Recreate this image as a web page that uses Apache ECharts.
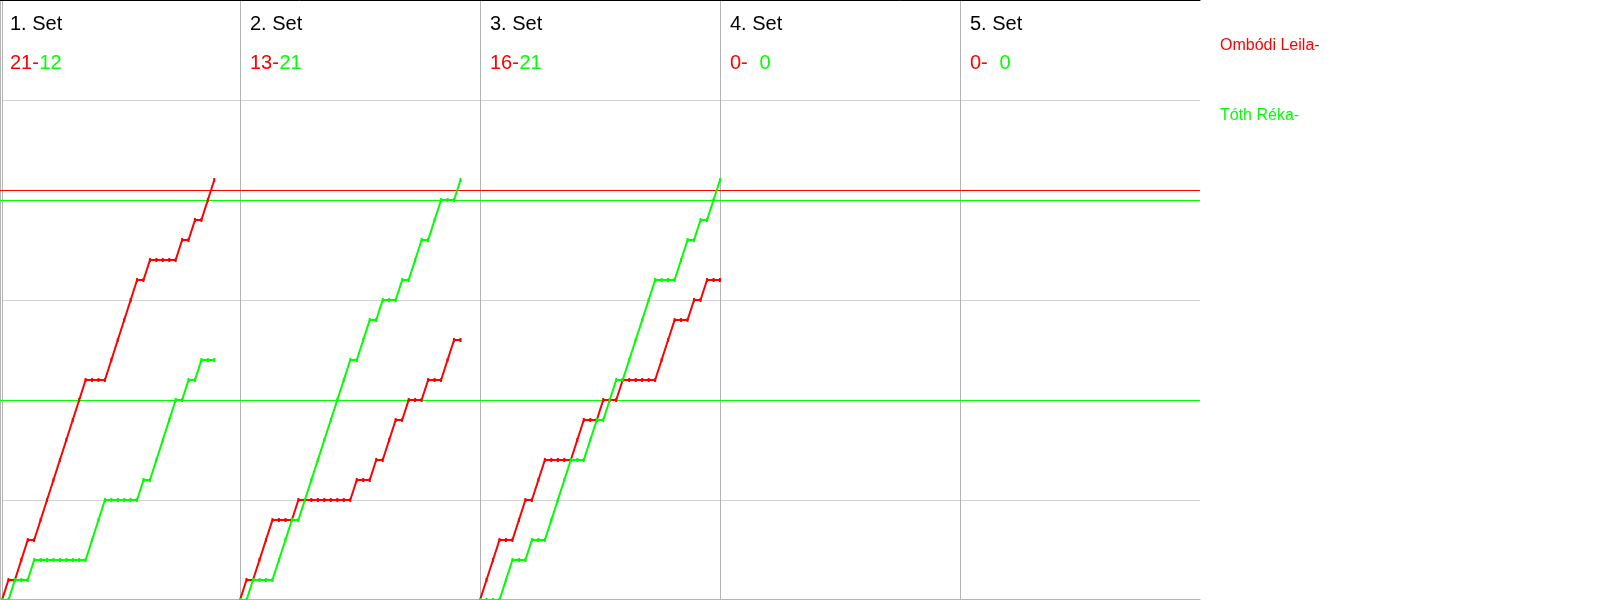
<!DOCTYPE html>
<html>
<head>
<meta charset="utf-8">
<script src="https://cdn.jsdelivr.net/npm/echarts@6/dist/echarts.min.js"></script>
<style>
html,body{margin:0;padding:0;background:#fff;}
#chart{width:1600px;height:600px;}
</style>
</head>
<body>
<div id="chart"></div>
<script>
// ---- data ----
const setTitles = ['1. Set', '2. Set', '3. Set', '4. Set', '5. Set'];
const playerNames = ['Ombódi Leila', 'Tóth Réka'];
const redSetScores = [21, 13, 16, 0, 0];
const greenSetScores = [12, 21, 21, 0, 0];
// rally winners per set (R = Ombódi Leila, G = Tóth Réka)
const set1Rallies = ['R','G','R','R','G','R','R','R','R','R','R','R','R','G','G','G','R','R','R','R','R','G','R','G','G','G','G','R','G','R','G','R','R'];
const set2Rallies = ['R','G','R','R','R','G','G','G','R','G','G','G','G','G','G','G','G','R','G','G','R','G','R','R','G','R','G','G','R','G','G','R','R','G'];
const set3Rallies = ['R','R','R','G','G','R','R','G','R','R','G','G','G','G','R','R','G','G','R','G','G','R','G','G','G','G','G','R','R','R','G','G','R','G','R','G','G'];
const set4Rallies = [];
const set5Rallies = [];
const ralliesPerPanel = 37;
const yMax = 30;
const yStep = 5;
const redLevels = [20.5];
const greenLevels = [20, 10];

// ---- build ----
const RED = '#ff0000', GREEN = '#00ff00';
const VGRID = '#b4b4b4', HGRID = '#d3d3d3';
const FONT = '"Liberation Sans", Arial, Helvetica, sans-serif';
const allRallies = [set1Rallies, set2Rallies, set3Rallies, set4Rallies, set5Rallies];
const PANEL_W = 240, TOP = 0, H = 600;

function progress(rallies, who) {
  const pts = [[0, 0]];
  let s = 0;
  rallies.forEach((w, i) => { if (w === who) s++; pts.push([i + 1, s]); });
  return rallies.length ? pts : [];
}

const grids = [], xAxes = [], yAxes = [], series = [], graphics = [];
allRallies.forEach((rallies, i) => {
  const left = i === 0 ? 2 : PANEL_W * i;
  grids.push({ left: left, top: TOP, width: PANEL_W * (i + 1) - left, height: H, containLabel: false });
  xAxes.push({
    type: 'value', gridIndex: i, min: 0, max: ralliesPerPanel, offset: -1,
    axisLine: { show: true, onZero: false, lineStyle: { color: VGRID, width: 1 } },
    axisTick: { show: false }, axisLabel: { show: false }, splitLine: { show: false }
  });
  yAxes.push({
    type: 'value', gridIndex: i, min: 0, max: yMax, interval: yStep,
    axisLine: { show: true, lineStyle: { color: VGRID, width: 1 } },
    axisTick: { show: false }, axisLabel: { show: false },
    splitLine: { show: true, lineStyle: { color: HGRID, width: 1 } }
  });
  const common = {
    type: 'line', xAxisIndex: i, yAxisIndex: i, symbol: 'rect', symbolSize: [2, 4],
    showSymbol: true, animation: false, silent: true, z: 5
  };
  series.push(Object.assign({}, common, {
    name: playerNames[0], data: progress(rallies, 'R'),
    lineStyle: { color: RED, width: 2 }, itemStyle: { color: RED }
  }));
  series.push(Object.assign({}, common, {
    name: playerNames[1], data: progress(rallies, 'G'),
    lineStyle: { color: GREEN, width: 2 }, itemStyle: { color: GREEN }
  }));
  const x0 = PANEL_W * i;
  graphics.push({ type: 'text', x: x0 + 10, y: 24, style: { text: setTitles[i], font: '20px ' + FONT, fill: '#000', textVerticalAlign: 'middle' } });
  graphics.push({ type: 'text', x: x0 + 10, y: 63, style: { text: redSetScores[i] + '-', font: '20px ' + FONT, fill: RED, textVerticalAlign: 'middle' } });
  graphics.push({ type: 'text', x: x0 + 39.5, y: 63, style: { text: String(greenSetScores[i]), font: '20px ' + FONT, fill: GREEN, textVerticalAlign: 'middle' } });
});

// overlay grid spanning all sets: borders and level lines
const ov = allRallies.length;
grids.push({ left: 0, top: TOP, width: PANEL_W * ov, height: H });
xAxes.push({
  type: 'value', gridIndex: ov, min: 0, max: 1, position: 'top',
  axisLine: { show: true, onZero: false, lineStyle: { color: '#000', width: 1 } },
  axisTick: { show: false }, axisLabel: { show: false }, splitLine: { show: false }
});
yAxes.push({
  type: 'value', gridIndex: ov, min: 0, max: yMax, position: 'right',
  axisLine: { show: true, lineStyle: { color: VGRID, width: 1 } },
  axisTick: { show: false }, axisLabel: { show: false }, splitLine: { show: false }
});
[[redLevels, RED], [greenLevels, GREEN]].forEach(([levels, color]) => {
  series.push({
    type: 'line', xAxisIndex: ov, yAxisIndex: ov, data: [], silent: true, animation: false, z: 3,
    color: color,
    markLine: {
      silent: true, symbol: 'none', animation: false,
      label: { show: false },
      lineStyle: { color: color, width: 1, type: 'solid', opacity: 1 },
      emphasis: { disabled: true },
      data: levels.map(v => ({ yAxis: v }))
    }
  });
});

graphics.push({ type: 'text', x: 1220, y: 45.5, style: { text: playerNames[0] + '-', font: '16px ' + FONT, fill: RED, textVerticalAlign: 'middle' } });
graphics.push({ type: 'text', x: 1220, y: 115.5, style: { text: playerNames[1] + '-', font: '16px ' + FONT, fill: GREEN, textVerticalAlign: 'middle' } });

const chart = echarts.init(document.getElementById('chart'), null, { renderer: 'canvas' });
chart.setOption({
  backgroundColor: '#ffffff',
  animation: false,
  grid: grids, xAxis: xAxes, yAxis: yAxes, series: series,
  graphic: graphics
});
</script>
</body>
</html>
